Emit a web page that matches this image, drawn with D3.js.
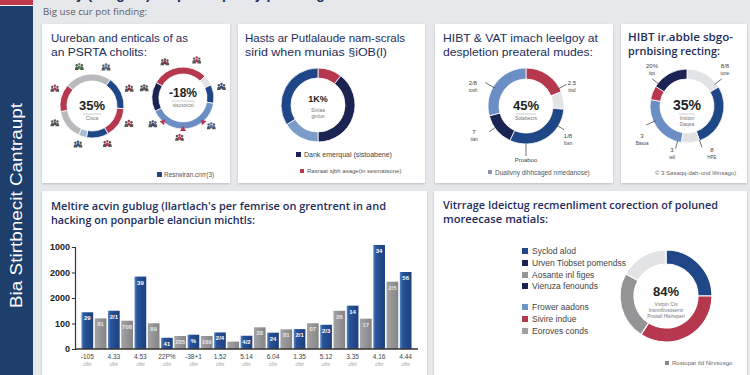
<!DOCTYPE html>
<html>
<head>
<meta charset="utf-8">
<script src="https://cdn.jsdelivr.net/npm/d3@7"></script>
<style>
  html, body { margin: 0; padding: 0; background: #e7e8eb; }
  svg { display: block; font-family: "Liberation Sans", Arial, sans-serif; }
</style>
</head>
<body>
<div class="container"></div>
<script>
// values
const barValues = [144, 120, 150, 111, 284, 101, 44, 51, 56, 51, 65, 29, 52, 85, 64, 77, 78, 101, 95, 150, 170, 119, 408, 264, 302];
const barLabels = ["29", "81", "2/1", "708", "39", "89", "41", "205", "%", "169", "2/4", "", "4/2", "28", "24", "81", "2/1", "07", "2/3", "28", "14", "17", "34", "2/5", "56"];
const xTickLabels = ["-105", "4.33", "4.53", "22P%", "-38+1", "1.52", "5.14", "6.04", "1.35", "5.12", "3.35", "4.16", "4.44"];
const yTickValues = [0, 100, 200, 300, 400];
const yTickLabels = ["0", "100", "2000", "2000", "1000"];

// donut slices, in degrees of arc
const ring1 = [85, 60, 55, 40, 15, 55, 50];
const ring2 = [105, 20, 35, 145, 55];
const ring3 = [38, 142, 58, 122];
const ring4 = [68, 27, 110, 50, 105];
const ring5 = [59, 101, 29, 91, 22, 58];
const ring6 = [90, 123, 86, 61];

const legend6 = ["Syclod alod", "Urven Tiobset pomendss", "Aosante inl figes", "Vieruza fenounds", "Frower aadons", "Sivire indue", "Eoroves conds"];

const titles = [
  ["Uureban and enticals of as", "an PSRTA cholits:"],
  ["Hasts ar Putlalaude nam-scrals", "sirid when munias \u00a7iOB(l)"],
  ["HIBT & VAT imach leelgoy at", "despletion preateral mudes:"],
  ["HIBT ir.abble sbgo-", "prnbising recting:"],
  ["Meltire acvin gublug (llartlach's per femrise on grentrent in and", "hacking on ponparble elanciun michtls:"],
  ["Vitrrage Ideictug recmenliment corection of poluned", "moreecase matials:"]
];

const NAVY = "#1f4788", DARK = "#1b2352", RED = "#b5384f", STEEL = "#6b8ec4", LIGHT = "#e2e3e5", GRAY = "#959597";

const width = 750, height = 375;
let svg = d3.select(".container").append("svg")
  .attr("width", width)
  .attr("height", height)
  .style("background", "#e7e8eb");

let defs = svg.append("defs");
defs.append("filter").attr("id", "shadow")
  .attr("x", "-5%").attr("y", "-5%").attr("width", "110%").attr("height", "115%")
  .append("feDropShadow")
  .attr("dx", 0).attr("dy", 1).attr("stdDeviation", 1.2)
  .attr("flood-color", "#000").attr("flood-opacity", 0.18);
let grad = defs.append("linearGradient").attr("id", "barNavy");
grad.append("stop").attr("offset", "0%").attr("stop-color", "#5a86c8");
grad.append("stop").attr("offset", "22%").attr("stop-color", "#2a5498");
grad.append("stop").attr("offset", "100%").attr("stop-color", "#1c3f80");
let grad2 = defs.append("linearGradient").attr("id", "barGray");
grad2.append("stop").attr("offset", "0%").attr("stop-color", "#a3a3a5");
grad2.append("stop").attr("offset", "100%").attr("stop-color", "#858587");

// sidebar + header
svg.append("rect").attr("x", 0).attr("y", 0).attr("width", 33).attr("height", height).attr("fill", "#1e3e6c");
svg.append("rect").attr("x", 0).attr("y", 0).attr("width", 33).attr("height", 5).attr("fill", "#c0394a");
svg.append("rect").attr("x", 0).attr("y", 5).attr("width", 33).attr("height", 1).attr("fill", "#f2f2f2");
svg.append("text")
  .attr("transform", "translate(22,308) rotate(-90)")
  .attr("fill", "#fff").style("font-size", "16px")
  .attr("textLength", 205).attr("lengthAdjust", "spacingAndGlyphs")
  .text("Bia Stirtbnecit Cantraupt");
// header title sits mostly above the top edge, as in the reference
svg.append("text").attr("x", 58).attr("y", -1)
  .attr("fill", "#1e2d5c").style("font-size", "14px").style("font-weight", "bold")
  .text("Key (insights) for public policy planning");
svg.append("text").attr("x", 43).attr("y", 15)
  .attr("fill", "#5a5d66").style("font-size", "9px")
  .style("font-family", "'Open Sans', sans-serif")
  .attr("textLength", 104).attr("lengthAdjust", "spacingAndGlyphs")
  .text("Big use cur pot finding:");

// cards
const cards = [[42, 24, 188, 159], [238, 24, 187, 159], [435, 24, 178, 159], [621, 24, 126, 159], [42, 191, 385, 190], [434, 191, 313, 190]];
svg.selectAll("rect.card").data(cards).enter().append("rect")
  .attr("class", "card")
  .attr("x", d => d[0]).attr("y", d => d[1])
  .attr("width", d => d[2]).attr("height", d => d[3])
  .attr("fill", "#fff")
  .attr("filter", "url(#shadow)");

function title(i, x, y, w1, w2, size, bold) {
  const t = svg.append("g");
  [w1, w2].forEach((w, k) => {
    t.append("text").attr("x", x).attr("y", y + k * 14)
      .attr("fill", "#1e2d5c")
      .style("font-size", size + "px")
      .style("font-weight", bold ? 600 : 400)
      .style("font-family", bold ? "'Open Sans', sans-serif" : "'Liberation Sans', sans-serif")
      .attr("textLength", w).attr("lengthAdjust", "spacingAndGlyphs")
      .text(titles[i][k]);
  });
}
title(0, 51, 42, 137, 96, 11.5, false);
title(1, 245, 42, 160, 142, 11.5, false);
title(2, 443, 42, 155, 150, 11.5, false);
title(3, 628, 41, 105, 92, 11.5, true);
title(4, 51, 210, 335, 204, 10.5, true);
title(5, 443, 209, 275, 105, 10.5, true);

function donut(cx, cy, rIn, rOut, values, colors, start) {
  const pie = d3.pie().sort(null).value(d => d)
    .startAngle(start * Math.PI / 180)
    .endAngle((start + 360) * Math.PI / 180);
  const arc = d3.arc().innerRadius(rIn).outerRadius(rOut);
  const g = svg.append("g").attr("transform", `translate(${cx},${cy})`);
  g.selectAll("path").data(pie(values)).enter().append("path")
    .attr("d", arc)
    .attr("fill", (d, i) => colors[i])
    .attr("stroke", "#fff").attr("stroke-width", 0.8);
  return g;
}

function centre(g, big, size, lines, dy, rule) {
  g.append("text").attr("text-anchor", "middle").attr("y", dy)
    .attr("fill", "#222").style("font-size", size + "px").style("font-weight", "bold")
    .text(big);
  if (rule) {
    g.append("line").attr("x1", -rule).attr("x2", rule).attr("y1", dy + 4).attr("y2", dy + 4)
      .attr("stroke", "#999").attr("stroke-width", 0.5);
  }
  lines.forEach((l, k) => {
    g.append("text").attr("text-anchor", "middle").attr("y", dy + 10 + k * 6)
      .attr("fill", "#777").style("font-size", "5px").text(l);
  });
}

function callout(g, angle, r1, r2, lx, ly, lines) {
  const a = (angle - 90) * Math.PI / 180;
  g.append("line")
    .attr("x1", Math.cos(a) * r1).attr("y1", Math.sin(a) * r1)
    .attr("x2", Math.cos(a) * r2).attr("y2", Math.sin(a) * r2)
    .attr("stroke", "#333").attr("stroke-width", 0.7);
  lines.forEach((l, k) => {
    g.append("text").attr("x", lx).attr("y", ly + k * 7).attr("text-anchor", "middle")
      .attr("fill", "#444").style("font-size", k ? "4.5px" : "6px").text(l);
  });
}

// little people clusters around the first two rings
const iconAngles1 = [-18, 20, 65, 116, 158, 200, 245, 295];
const iconColors1 = ["#4b8a4e", "#4f6fa8", "#8a2f3a", "#b5384f", "#b5384f", "#2b4a7e", "#555", "#b5384f"];
const iconAngles2 = [-27, 20, 74, 135, 185, 229, 284];
const iconColors2 = ["#8a2f3a", "#b5384f", "#2b4a7e", "#4f6fa8", "#b5384f", "#2b4a7e", "#555"];

function people(g, angles, colors, r) {
  const ic = g.selectAll("g.icon").data(angles).enter().append("g")
    .attr("transform", d => {
      const a = (d - 90) * Math.PI / 180;
      return `translate(${Math.cos(a) * r},${Math.sin(a) * r})`;
    });
  [[-2.6, 0.6, "#555"], [2.6, 0.6, "#555"], [0, -0.5, null]].forEach(p => {
    ic.append("circle").attr("cx", p[0]).attr("cy", p[1] - 2.4).attr("r", 1.2)
      .attr("fill", (d, i) => p[2] || colors[i]);
    ic.append("path")
      .attr("d", `M${p[0] - 1.8},${p[1] + 2.4} Q${p[0] - 1.8},${p[1] - 1} ${p[0]},${p[1] - 1} Q${p[0] + 1.8},${p[1] - 1} ${p[0] + 1.8},${p[1] + 2.4} Z`)
      .attr("fill", (d, i) => p[2] || colors[i]);
  });
}

// panel 1
let d1 = donut(92, 106, 25, 32, ring1, ["#b9babd", NAVY, RED, NAVY, "#a9bcd8", "#b9babd", RED], -50);
people(d1, iconAngles1, iconColors1, 41);
centre(d1, "35%", 13, ["Cisca"], 4, 9);
let d2 = donut(183, 98, 24, 31, ring2, [RED, LIGHT, NAVY, STEEL, DARK], -60);
[140, 180, 220].forEach(a => {
  const r = a * Math.PI / 180;
  d2.append("path").attr("d", "M-3,-2 L3,-2 L0,3 Z")
    .attr("fill", RED)
    .attr("transform", `translate(${Math.sin(r) * 31},${-Math.cos(r) * 31}) rotate(${a})`);
});
people(d2, iconAngles2, iconColors2, 40);
centre(d2, "-18%", 12, ["siscsoicsi"], -1, 12);
svg.append("rect").attr("x", 157).attr("y", 172).attr("width", 5).attr("height", 5).attr("fill", NAVY);
svg.append("text").attr("x", 164).attr("y", 177).attr("fill", "#555").style("font-size", "6.5px").text("Resrwiran.cnrr(3)");

// panel 2
let d3r = donut(318, 105, 27, 37, ring3, [RED, DARK, "#7b9bc8", NAVY], 0);
centre(d3r, "1K%", 9, ["Sinlaa", "ginlus"], -3, 0);
svg.append("rect").attr("x", 296).attr("y", 152).attr("width", 5).attr("height", 5).attr("fill", DARK);
svg.append("text").attr("x", 304).attr("y", 157).attr("fill", "#444").style("font-size", "7px").text("Dank emerqual (sistoabene)");
svg.append("rect").attr("x", 300).attr("y", 169).attr("width", 4).attr("height", 4).attr("fill", RED);
svg.append("text").attr("x", 307).attr("y", 173).attr("fill", "#555").style("font-size", "6px").text("Rasraat sjbh asage(in sesmatsone)");

// panel 3
let d4 = donut(526, 106, 27, 38, ring4, [RED, LIGHT, NAVY, DARK, STEEL], 0);
centre(d4, "45%", 13, ["Solabecrs"], 4, 10);
callout(d4, 300, 36, 47, -53, -21, ["2/8", "tosh"]);
callout(d4, 62, 36, 46, 46, -21, ["2.5", "tind"]);
callout(d4, 235, 36, 45, -52, 28, ["7", "tian"]);
callout(d4, 122, 36, 45, 42, 32, ["1/8", "fosn"]);
callout(d4, 180, 38, 50, 0, 56, ["Proaboo"]);
svg.append("rect").attr("x", 488).attr("y", 170).attr("width", 4).attr("height", 4).attr("fill", "#8a96b0");
svg.append("text").attr("x", 495).attr("y", 175).attr("fill", "#555").style("font-size", "6.5px").text("Dualivny dihhcaged nmedanose)");

// panel 4
let d5 = donut(687, 106, 27, 37, ring5, [LIGHT, NAVY, LIGHT, STEEL, RED, DARK], 0);
centre(d5, "35%", 14, ["Insiton", "Daqea"], 4, 8);
callout(d5, 308, 35, 44, -35, -38, ["20%", "tipt"]);
callout(d5, 52, 35, 44, 38, -38, ["8/8", "tone"]);
callout(d5, 245, 35, 45, -45, 32, ["3", "Basoa"]);
callout(d5, 195, 36, 44, -15, 46, ["3", "tell"]);
callout(d5, 160, 36, 44, 25, 46, ["8", "HPE"]);
svg.append("text").attr("x", 655).attr("y", 175).attr("fill", "#666").style("font-size", "6px").text("\u00a9 3 Sasaqq-dah-und lifinsago)");

// bar chart
const x = d3.scaleBand().domain(d3.range(barValues.length)).range([81.5, 411.5]).paddingInner(0.12);
const y = d3.scaleLinear().domain([0, 400]).range([349, 247]);

let gb = svg.append("g");
gb.selectAll("rect.bar").data(barValues).enter().append("rect")
  .attr("class", "bar")
  .attr("x", (d, i) => x(i)).attr("width", x.bandwidth())
  .attr("y", d => y(d)).attr("height", d => y(0) - y(d))
  .attr("fill", (d, i) => i % 2 ? "url(#barGray)" : "url(#barNavy)");
gb.selectAll("text.blab").data(barValues).enter().append("text")
  .attr("class", "blab")
  .attr("x", (d, i) => x(i) + x.bandwidth() / 2)
  .attr("y", d => y(d) + 8)
  .attr("text-anchor", "middle")
  .attr("fill", (d, i) => i % 2 ? "#e6e6e6" : "#fff")
  .style("font-size", "6px").style("font-weight", "bold")
  .text((d, i) => barLabels[i]);

const yAxis = d3.axisLeft(y).tickValues(yTickValues).tickSize(3).tickFormat((d, i) => yTickLabels[i]);
let ga = svg.append("g").attr("transform", "translate(75,0)").call(yAxis);
ga.select(".domain").attr("stroke", "#333").attr("stroke-width", 1.2);
ga.selectAll(".tick line").attr("stroke", "#333");
ga.selectAll(".tick text").attr("fill", "#222").attr("x", -5)
  .style("font-size", "9px").style("font-weight", "bold")
  .style("font-family", "'Liberation Sans', sans-serif");

svg.append("line").attr("x1", 75).attr("x2", 418).attr("y1", y(0)).attr("y2", y(0))
  .attr("stroke", "#333").attr("stroke-width", 1.4);

const xLab = svg.append("g").selectAll("g").data(xTickLabels).enter().append("g")
  .attr("transform", (d, i) => `translate(${x(i * 2) + x.bandwidth() / 2},0)`);
xLab.append("text").attr("y", 359).attr("text-anchor", "middle")
  .attr("fill", "#444").style("font-size", "6.5px").text(d => d);
xLab.append("text").attr("y", 366).attr("text-anchor", "middle")
  .attr("fill", "#999").style("font-size", "4.5px").style("font-style", "italic").text("cfini");

// bottom right donut + legend
const legendColors = [NAVY, DARK, GRAY, DARK, "#6a96c8", RED, "#a0a0a2"];
const legendY = [254, 266, 278, 289, 310, 322, 334];
let lg = svg.append("g").selectAll("g").data(legend6).enter().append("g")
  .attr("transform", (d, i) => `translate(522,${legendY[i]})`);
lg.append("rect").attr("y", -6).attr("width", 6).attr("height", 6).attr("fill", (d, i) => legendColors[i]);
lg.append("text").attr("x", 10).attr("y", 0).attr("fill", "#444")
  .style("font-size", "8.5px").text(d => d);

let d6 = donut(666, 296, 32, 46, ring6, [NAVY, RED, GRAY, LIGHT], 0);
d6.selectAll("path").attr("stroke-width", 1.2);
centre(d6, "84%", 13, ["Vsrpin Cis", "Insnnfilvsosersr", "Pnstall Hlehsperi"], 0, 0);
svg.append("rect").attr("x", 665).attr("y", 361).attr("width", 4).attr("height", 4).attr("fill", "#888");
svg.append("text").attr("x", 672).attr("y", 365).attr("fill", "#666").style("font-size", "6px").text("Rostopar ild Nirvsosgo");
</script>
</body>
</html>
